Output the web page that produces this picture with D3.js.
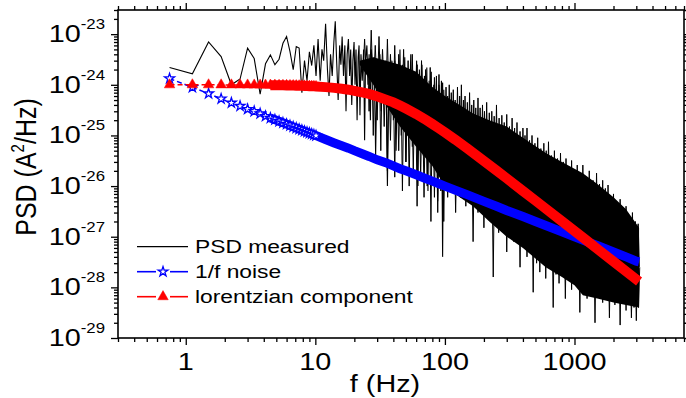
<!DOCTYPE html>
<html><head><meta charset="utf-8">
<script src="https://cdn.jsdelivr.net/npm/d3@7"></script>
<style>body{margin:0;background:#fff;} svg{display:block;} text{font-family:"Liberation Sans",Arial,Helvetica,sans-serif;fill:#000;}</style>
</head><body><svg id="c" width="686" height="398"></svg>
<script>
// ---------- DATA ----------
// measured PSD, trace points (f in Hz, PSD in A^2/Hz)
const measFreq = [0.75,1.125,1.5,1.875,2.25,2.625,3.0,3.375,3.75,4.125,4.5,4.875,5.25,5.625,6.0,6.375,6.75,7.125,7.5,7.875,8.25,8.625,9.0,9.375,9.75,10.125,
  10.5,10.9,11.25,11.6,12.0,12.4,12.75,13.1,13.5,13.9,14.25,14.6,15.0,15.4,15.75,16.1,16.5,16.9,17.25,17.6,18.0,18.4,18.75,19.1,19.5,19.9,20.25,20.6,21.0,21.4,21.75,22.1,22.5,23.0,23.6,24.0,24.4,25.0,25.5,26.0,26.6,27.0,27.8,28.5,29.2,30.0,30.8,31.5,32.2,33.0,34.0,35.0,36.0,37.0,38.0,39.0,40.0,
  41,42,43,44,45,46,47,48,49,50,51.5,53,54.5,56,57.5,59,60.5,62,63.5,65,66.5,68,69.5,71,72.5,74,75.5,77,78.5,80,82,84,86,88,90,92,94,96,98,100];
const measPSD = [2.2e-24,1.65e-24,7.0e-24,3.6e-24,1.0e-24,1.3e-24,5.3e-24,3.3e-24,6.5e-25,2.6e-24,3.9e-24,2.5e-24,3.2e-24,6.6e-24,9.0e-24,4.5e-24,2.0e-24,5.7e-24,5.3e-24,7.0e-25,3.0e-24,1.2e-24,4.5e-24,2.4e-24,6.0e-24,1.5e-24,
  8e-24,1.2e-24,5e-24,3e-24,1.6e-23,2e-24,6e-25,4e-24,1.5e-24,7e-24,1.8e-23,3e-24,5e-25,6e-24,2.5e-24,9e-24,1.5e-24,6e-24,3e-25,4e-24,8e-24,1.5e-24,5e-24,4e-25,3e-24,7e-24,1e-24,5e-24,2e-25,3.5e-24,6e-24,2.5e-25,4e-24,1.2e-24,5e-24,8e-26,3e-24,6e-24,1e-24,4e-24,2e-25,5e-24,1.5e-24,3.5e-24,4e-26,3e-24,1e-24,4e-24,3e-25,2.5e-24,6e-25,3e-24,1e-26,2.5e-24,8e-25,3e-24,2e-25,
  3e-24,5e-26,2e-24,4e-25,5e-24,1e-25,2.5e-24,6e-25,3.5e-24,3e-26,2e-24,2e-25,4e-24,6e-26,1.5e-24,3e-25,3e-24,1e-26,2e-24,1.5e-25,2.5e-24,4e-26,1.5e-24,2e-25,2.2e-24,8e-27,1.2e-24,1e-25,1.8e-24,3e-26,1e-24,1.2e-25,1.5e-24,5e-27,1e-24,6e-26,1.2e-24,4e-28,8e-25,5e-26];
// measured PSD, dense part: solid envelope
const coreFreq   = [22,28,35,45,60,80,100,130,165,220,300,400,600,800,1000,1160,1500,2000,2500,3150];
const coreTop    = [3e-24,3.5e-24,3e-24,2.5e-24,1.8e-24,9e-25,6e-25,4e-25,2.7e-25,2e-25,1.5e-25,9e-26,4.5e-26,3e-26,2.2e-26,1.8e-26,1.1e-26,6e-27,3.5e-27,1.5e-27];
const coreBottom = [2.5e-24,1e-24,4e-25,1.5e-25,6e-26,2.5e-26,1e-26,6e-27,4e-27,2e-27,1e-27,6e-28,2.5e-28,1.6e-28,1.1e-28,7e-29,6e-29,5e-29,4.5e-29,4e-29];
// measured PSD, dense part: spike tips above / below
const upFreq = [24,27,29,31,33,36,38,41,44,48,52,56,61,66,71,77,83,90,96,
  102,105,108,112,116,120,125,130,134,139,143,149,155,161,167,173,180,187,195,202,210,220,230,240,250,262,275,287,300,315,330,345,360,380,400,415,430,450,470,495,520,550,580,605,630,665,700,740,780,820,860,905,950,1000,1050,1100,1160,1230,1300,1390,1480,1560,1650,1730,1815,1900,2000,2120,2250,2370,2500,2650,2800,2950,3100];
const upPSD  = [8e-24,1.2e-23,6e-24,9e-24,5e-24,8e-24,4e-24,6e-24,4e-24,5e-24,3e-24,4e-24,2.5e-24,3e-24,2e-24,2.2e-24,1.4e-24,1.6e-24,1.1e-24,
  9e-25,6e-25,1e-24,7e-25,8e-25,5e-25,9e-25,6e-25,1e-24,5e-25,6e-25,4.5e-25,7e-25,4e-25,5e-25,3.5e-25,5.5e-25,3.5e-25,4e-25,3e-25,4.5e-25,2.8e-25,3e-25,2.4e-25,4e-25,2.2e-25,2.5e-25,1.8e-25,2.6e-25,1.5e-25,2.2e-25,1.4e-25,1.8e-25,1.2e-25,1.4e-25,1e-25,1.4e-25,8e-26,1e-25,7e-26,9e-26,5.5e-26,7e-26,5e-26,7.5e-26,4e-26,5e-26,3.5e-26,4.5e-26,3e-26,3.5e-26,2.4e-26,3.2e-26,2e-26,2.6e-26,1.8e-26,2.6e-26,1.5e-26,2e-26,1.3e-26,1.8e-26,1.1e-26,1.3e-26,9e-27,1.05e-26,6e-27,7e-27,4.5e-27,5.5e-27,3.5e-27,4e-27,2.6e-27,3e-27,2e-27,1.8e-27];
const downFreq = [26,28,30,32,34,36,38,41,44,47,50,53,57,61,65,69,73,78,83,88,93,98,
  105,112,121,132,145,155,165,180,200,218,236,260,280,300,320,340,360,380,405,430,455,480,510,540,570,600,640,685,720,760,800,850,900,950,1020,1100,1170,1250,1340,1440,1540,1650,1750,1860,1950,2050,2150,2250,2370,2500,2620,2750,2880,3000,3120];
const downPSD  = [3e-25,1e-25,2e-25,5e-26,1.5e-25,2e-26,8e-26,1.5e-26,5e-26,8e-27,3e-26,1e-26,2e-26,4e-27,1.5e-26,6e-27,1e-26,2e-27,6e-27,3e-27,8e-27,2e-27,
  6e-27,1.2e-26,3e-27,6e-27,4e-27,2e-26,8e-28,3e-27,1.5e-27,4e-27,1.6e-28,1.2e-27,2e-27,5e-28,1.5e-27,8e-28,1.2e-27,2.5e-28,6e-28,4e-28,7e-28,8e-29,3e-28,2e-28,3e-28,1.5e-28,2.5e-28,4e-29,1.8e-28,1.2e-28,2e-28,6e-29,1.5e-28,9e-29,1.3e-28,3.2e-29,9e-29,6e-29,1e-28,2e-29,8e-29,5e-29,7e-29,2.5e-29,6e-29,4.5e-29,7e-29,1.8e-29,5e-29,3.5e-29,6e-29,2.5e-29,4e-29,2.2e-29,4e-29];
// fitted components
const modelFreq = [0.75,1.125,1.5,1.875,2.25,2.625,3.0,3.375,3.75,4.125,4.5,4.875,5.25,5.625,6.0,6.375,6.75,7.125,7.5,7.875,8.25,8.625,9.0,9.375,9.75,10.125,
  12,14,16,18,20,23,26,30,35,40,45,50,60,70,80,90,100,120,150,200,250,300,400,500,600,800,1000,1200,1500,2000,2500,3000,3150];
const oneOverF = [1.33e-24,8.9e-25,6.7e-25,5.3e-25,4.4e-25,3.8e-25,3.3e-25,3.0e-25,2.7e-25,2.4e-25,2.2e-25,2.05e-25,1.9e-25,1.78e-25,1.67e-25,1.57e-25,1.48e-25,1.40e-25,1.33e-25,1.27e-25,1.21e-25,1.16e-25,1.11e-25,1.07e-25,1.03e-25,9.9e-26,
  8.3e-26,7.1e-26,6.25e-26,5.6e-26,5.0e-26,4.35e-26,3.85e-26,3.3e-26,2.9e-26,2.5e-26,2.2e-26,2.0e-26,1.67e-26,1.43e-26,1.25e-26,1.11e-26,1.0e-26,8.3e-27,6.7e-27,5.0e-27,4.0e-27,3.3e-27,2.5e-27,2.0e-27,1.67e-27,1.25e-27,1.0e-27,8.3e-28,6.7e-28,5.0e-28,4.0e-28,3.3e-28,3.2e-28];
const lorentzian = [1.0e-24,1.0e-24,1.0e-24,9.97e-25,9.96e-25,9.95e-25,9.93e-25,9.91e-25,9.89e-25,9.87e-25,9.85e-25,9.82e-25,9.79e-25,9.76e-25,9.73e-25,9.70e-25,9.66e-25,9.62e-25,9.58e-25,9.54e-25,9.50e-25,9.46e-25,9.41e-25,9.36e-25,9.32e-25,9.27e-25,
  9.0e-25,8.7e-25,8.35e-25,8.0e-25,7.6e-25,7.1e-25,6.6e-25,5.9e-25,5.1e-25,4.5e-25,3.9e-25,3.4e-25,2.65e-25,2.1e-25,1.68e-25,1.38e-25,1.15e-25,8.3e-26,5.45e-26,3.14e-26,2.03e-26,1.42e-26,8.0e-27,5.16e-27,3.59e-27,2.02e-27,1.30e-27,9.0e-28,5.76e-28,3.24e-28,2.07e-28,1.44e-28,1.31e-28];
// axes
const xMajor = [1,10,100,1000];
const xTickLabels = ["1","10","100","1000"];
const yMajor = [1e-23,1e-24,1e-25,1e-26,1e-27,1e-28,1e-29];
const yTickExp = ["-23","-24","-25","-26","-27","-28","-29"];
const legendLabels = ["PSD measured","1/f noise","lorentzian component"];

// ---------- DRAWING ----------
const svg = d3.select("#c");
const L=118,R=684,T=10,B=338, SX=1.2;
const x = d3.scaleLog().domain([0.3,7000]).range([L,R]);
const y = d3.scaleLog().domain([1e-29,3e-23]).range([B,T]);
svg.append("rect").attr("width",686).attr("height",398).attr("fill","#fff");
svg.append("clipPath").attr("id","clip").append("rect").attr("x",L).attr("y",T).attr("width",R-L).attr("height",B-T);
const plot = svg.append("g").attr("clip-path","url(#clip)");

// measured: core band
const area = d3.area().x((d,i)=>x(coreFreq[i])).y0((d,i)=>y(coreBottom[i])).y1((d,i)=>y(coreTop[i]));
plot.append("path").attr("d",area(coreFreq)).attr("fill","#000");
function coreMid(f){
  const lf=Math.log10(f);
  let i=d3.bisectRight(coreFreq,f)-1; i=Math.max(0,Math.min(coreFreq.length-2,i));
  const t=(lf-Math.log10(coreFreq[i]))/(Math.log10(coreFreq[i+1])-Math.log10(coreFreq[i]));
  const lt=Math.log10(coreTop[i])+t*(Math.log10(coreTop[i+1])-Math.log10(coreTop[i]));
  const lb=Math.log10(coreBottom[i])+t*(Math.log10(coreBottom[i+1])-Math.log10(coreBottom[i]));
  return Math.pow(10,(lt+lb)/2);
}
function spike(f,v){
  const xm=x(f), ym=y(coreMid(f)), yt=y(v);
  plot.append("path").attr("d",`M${xm-1.2},${ym}L${xm},${yt}L${xm+1.2},${ym}`).attr("fill","none").attr("stroke","#000").attr("stroke-width",1);
}
upFreq.forEach((f,i)=>spike(f,upPSD[i]));
downFreq.forEach((f,i)=>spike(f,downPSD[i]));
// measured: trace
const line = d3.line().x(d=>x(d[0])).y(d=>y(d[1]));
plot.append("path").attr("d",line(measFreq.map((f,i)=>[f,measPSD[i]]))).attr("fill","none").attr("stroke","#000").attr("stroke-width",1.1).attr("stroke-linejoin","miter");

// model curves
const nMark = 26;
function drawModel(vals,color,bandW,symType,symSize,hollow){
  const pts = modelFreq.map((f,i)=>[f,vals[i]]);
  plot.append("path").attr("d",line(pts.slice(0,nMark))).attr("fill","none").attr("stroke",color).attr("stroke-width",1.5).attr("stroke-dasharray","5,3");
  plot.append("path").attr("d",line(pts.filter(p=>p[0]>=4.5))).attr("fill","none").attr("stroke",color).attr("stroke-width",bandW);
  const sym = d3.symbol().type(symType).size(symSize);
  pts.slice(0,nMark).forEach(p=>{
    plot.append("path").attr("d",sym()).attr("transform",`translate(${x(p[0])},${y(p[1])})`)
      .attr("fill",hollow?"#fff":color).attr("stroke",color).attr("stroke-width",hollow?1.3:0.5);
  });
}
drawModel(oneOverF,"#0000ff",9,d3.symbolStar,30,true);
drawModel(lorentzian,"#ff0000",10,d3.symbolTriangle,48,false);

// axes ticks
const xMinor = x.ticks().filter(v=>!xMajor.includes(v));
const yMinor = y.ticks().filter(v=>!yMajor.some(m=>Math.abs(m-v)/m<1e-6));
function ticks(axisGen,pos,vals,size){
  svg.append("g").attr("transform",pos).call(axisGen.tickValues(vals).tickSize(size).tickFormat("").tickSizeOuter(0))
    .call(g=>{g.select(".domain").remove(); g.selectAll("line").attr("stroke","#000").attr("stroke-width",1.3);});
}
ticks(d3.axisBottom(x),`translate(0,${B})`,xMajor,7); ticks(d3.axisBottom(x),`translate(0,${B})`,xMinor,4);
ticks(d3.axisTop(x),`translate(0,${T})`,xMajor,7); ticks(d3.axisTop(x),`translate(0,${T})`,xMinor,4);
ticks(d3.axisLeft(y),`translate(${L},0)`,yMajor,7); ticks(d3.axisLeft(y),`translate(${L},0)`,yMinor,4);
ticks(d3.axisRight(y),`translate(${R},0)`,yMajor,7); ticks(d3.axisRight(y),`translate(${R},0)`,yMinor,4);
svg.append("rect").attr("x",L).attr("y",T).attr("width",R-L).attr("height",B-T).attr("fill","none").attr("stroke","#000").attr("stroke-width",1.6);

// tick labels
xMajor.forEach((v,i)=>svg.append("text").attr("transform",`translate(${x(v)},370) scale(${SX},1)`).attr("text-anchor","middle").attr("font-size",24).text(xTickLabels[i]));
yMajor.forEach((v,i)=>{
  const t=svg.append("text").attr("transform",`translate(105,${y(v)+8}) scale(${SX},1)`).attr("text-anchor","end").attr("font-size",24);
  t.append("tspan").text("10");
  t.append("tspan").attr("font-size",14).attr("dy",-13).text(yTickExp[i]);
});
// axis titles
svg.append("text").attr("transform",`translate(385,392) scale(${SX},1)`).attr("text-anchor","middle").attr("font-size",24).text("f (Hz)");
const yt=svg.append("text").attr("transform",`translate(36,167) scale(${SX},1) rotate(-90)`).attr("text-anchor","middle").attr("font-size",25);
yt.append("tspan").text("PSD (A");
yt.append("tspan").attr("font-size",15).attr("dy",-10).text("2");
yt.append("tspan").attr("dy",10).text("/Hz)");

// legend
const rows=[246.7,271.7,296.7];
const lg=svg.append("g");
lg.append("line").attr("x1",137).attr("x2",188).attr("y1",rows[0]).attr("y2",rows[0]).attr("stroke","#000").attr("stroke-width",1.2);
[[1,"#0000ff",d3.symbolStar,30,true],[2,"#ff0000",d3.symbolTriangle,48,false]].forEach(([r,c,st,ss,h])=>{
  lg.append("line").attr("x1",137).attr("x2",156).attr("y1",rows[r]).attr("y2",rows[r]).attr("stroke",c).attr("stroke-width",1.6);
  lg.append("line").attr("x1",170).attr("x2",188).attr("y1",rows[r]).attr("y2",rows[r]).attr("stroke",c).attr("stroke-width",1.6);
  lg.append("path").attr("d",d3.symbol().type(st).size(ss)()).attr("transform",`translate(163,${rows[r]})`).attr("fill",h?"#fff":c).attr("stroke",c).attr("stroke-width",h?1.3:0.5);
});
legendLabels.forEach((s,i)=>lg.append("text").attr("transform",`translate(195,${rows[i]+6.5}) scale(${SX},1)`).attr("font-size",19).text(s));
</script></body></html>
